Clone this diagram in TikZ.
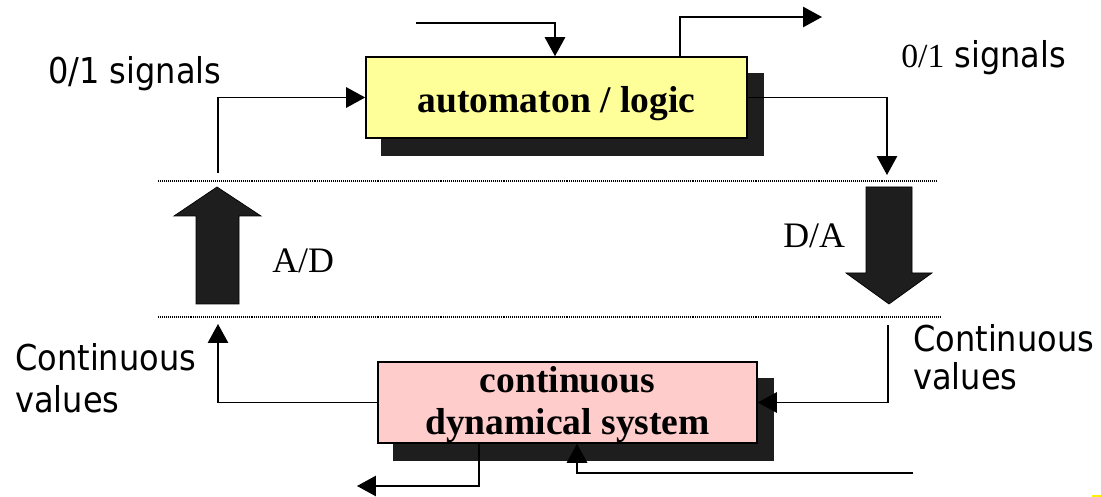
\documentclass[tikz,border=0pt]{standalone}
\usepackage{fontspec}
\setmainfont{Liberation Serif}
\setsansfont[FakeStretch=0.9]{DejaVu Sans}
\usetikzlibrary{arrows.meta,backgrounds}
\definecolor{boxyellow}{HTML}{FFFF99}
\definecolor{boxpink}{HTML}{FFCCCC}
\definecolor{shadowgray}{HTML}{1E1E1E}
\tikzset{
  wire/.style={line width=1.1pt, -{Triangle[length=13.5pt,width=14.5pt]}},
  blockbox/.style={draw, line width=1.1pt, inner sep=0pt},
  shadowbox/.style={fill=shadowgray},
  dotline/.style={line width=0.8pt, dash pattern=on 0.7pt off 0.7pt},
  bigarrow/.style={fill=shadowgray, draw=black, line width=0.5pt},
  sanslabel/.style={inner sep=0pt, font=\sffamily\fontsize{25.3}{30}\selectfont},
  seriflabel/.style={inner sep=0pt, font=\fontsize{25.5}{30}\selectfont},
  boldlabel/.style={inner sep=0pt, font=\bfseries\fontsize{26.7}{30}\selectfont},
}
\begin{document}
\begin{tikzpicture}[x=0.025cm, y=-0.025cm]
\useasboundingbox (0,0) rectangle (1101,497);

% blocks
\node[blockbox, fill=boxyellow, minimum width=9.525cm, minimum height=2.025cm] (auto) at (556.5,97.5) {};
\node[blockbox, fill=boxpink, minimum width=9.475cm, minimum height=2.025cm] (dyn) at (567.5,402.5) {};
\begin{scope}[on background layer]
  \fill[shadowbox] ([shift={(16,17)}]auto.south west) rectangle ([shift={(16,17)}]auto.north east);
  \fill[shadowbox] ([shift={(16,17)}]dyn.south west) rectangle ([shift={(16,17)}]dyn.north east);
\end{scope}

% block texts
\node[boldlabel, anchor=base] (autotxt) at (556.5,113) {automaton / logic};
\node[boldlabel, anchor=base] (dyntxt1) at (567.5,393) {continuous};
\node[boldlabel, anchor=base] (dyntxt2) at (567.5,435) {dynamical system};

% level separators
\coordinate (sepAl) at (158,181); \coordinate (sepAr) at (936,181);
\coordinate (sepBl) at (158,317); \coordinate (sepBr) at (940,317);
\draw[dotline] (sepAl) -- (sepAr);
\draw[dotline] (sepBl) -- (sepBr);

% converters
\draw[bigarrow] (196,304) -- (196,216) -- (174,216) -- (217,187) -- (261,216) -- (239,216) -- (239,304) -- cycle;
\draw[bigarrow] (866,187) -- (912,187) -- (912,273) -- (932,273) -- (889,304) -- (846,273) -- (866,273) -- cycle;
\node[seriflabel, anchor=base west] (ad) at (272,273) {A/D};
\node[seriflabel, anchor=base west] (da) at (783,248) {D/A};

% free ends of the signal lines
\coordinate (extIn) at (416,23);
\coordinate (extOut) at (822,17);
\coordinate (adOut) at (218,173);
\coordinate (daIn) at (887,175);
\coordinate (contIn) at (888,325);
\coordinate (contOut) at (218,324);
\coordinate (plantOut) at (357,486);
\coordinate (plantIn) at (913,473);

% signal lines
\draw[wire] (extIn) -| ([xshift=-0.0375cm]auto.north);
\draw[wire] ([xshift=3.0875cm]auto.north) |- (extOut);
\draw[wire] (auto.east) -| (daIn);
\draw[wire] (adOut) |- (auto.west);
\draw[wire] (contIn) |- (dyn.east);
\draw[wire] (dyn.west) -| (contOut);
\draw[wire] ([xshift=-2.2125cm]dyn.south) |- (plantOut);
\draw[wire] (plantIn) -| ([xshift=0.2375cm]dyn.south);

% side labels
\node[sanslabel, anchor=base west] (sigL) at (48,84) {0/1 signals};
\node[sanslabel, anchor=base west] (sigR) at (901,68) {{\rmfamily\fontsize{24}{28}\selectfont 0/1} signals};
\node[sanslabel, anchor=base west] (contL1) at (15,371) {Continuous};
\node[sanslabel, anchor=base west] (contL2) at (15,413) {values};
\node[sanslabel, anchor=base west] (contR1) at (913,352) {Continuous};
\node[sanslabel, anchor=base west] (contR2) at (913,390) {values};

% corner mark
\fill[yellow] (1092,495) rectangle (1101,497);
\end{tikzpicture}
\end{document}
